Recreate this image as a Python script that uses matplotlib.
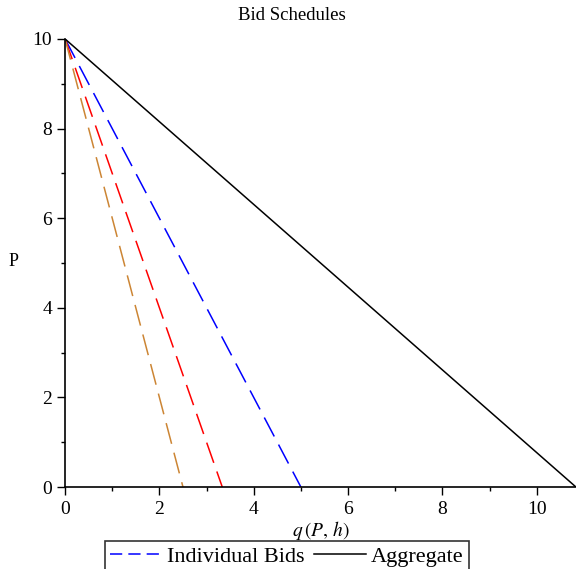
import matplotlib.pyplot as plt

plt.rcParams['font.family'] = ['Liberation Serif', 'DejaVu Serif']
plt.rcParams['mathtext.fontset'] = 'stix'

# bids q = k*(10 - P); intercepts on the q axis
p_max = 10.0
bid_intercepts = [5.0, 10.0 / 3.0, 2.5]
bid_colors = ['#0000ff', '#ff0000', '#cc8534']
aggregate_intercept = sum(bid_intercepts)
x_ticks = [0, 2, 4, 6, 8, 10]
y_ticks = [0, 2, 4, 6, 8, 10]

fig = plt.figure(figsize=(5.76, 5.69), dpi=100)
ax = fig.add_axes([0.113, 0.144, 0.887, 0.7875])

handles = []
for q0, c in zip(bid_intercepts, bid_colors):
    h, = ax.plot([0, q0], [p_max, 0], color=c, lw=1.1, dashes=(14, 6))
    handles.append(h)
agg, = ax.plot([0, aggregate_intercept], [p_max, 0], color='black', lw=1.1)

ax.set_xlim(0, aggregate_intercept)
ax.set_ylim(0, p_max)
ax.set_xticks(x_ticks)
ax.set_yticks(y_ticks)
ax.set_xticks([1, 3, 5, 7, 9], minor=True)
ax.set_yticks([1, 3, 5, 7, 9], minor=True)
ax.tick_params(labelsize=14, length=6, width=1)
ax.tick_params(axis='x', pad=4)
ax.tick_params(which='minor', length=3, width=1)
for s in ['top', 'right']:
    ax.spines[s].set_visible(False)
for s in ['left', 'bottom']:
    ax.spines[s].set_linewidth(1.2)

fig.text(292 / 576, 1 - 15 / 569, 'Bid Schedules', fontsize=13.5,
         ha='center', va='center')
fig.text(321 / 576, 1 - 530 / 569, r'$q\,(P,\, h)$', fontsize=14,
         ha='center', va='center')
fig.text(14 / 576, 1 - 262 / 569, 'P', fontsize=13, ha='center', va='center')

leg = fig.legend([handles[0], agg], ['Individual Bids', 'Aggregate'],
                 loc='upper center', bbox_to_anchor=(287 / 576, 1 - 541 / 569),
                 ncol=2, fontsize=16, frameon=True, fancybox=False,
                 edgecolor='black', handlelength=2.3, columnspacing=0.45,
                 borderpad=0.25, handletextpad=0.25, borderaxespad=0)
leg.get_frame().set_linewidth(1.2)
leg.get_lines()[0].set_dashes((8, 4))

fig.savefig('out.png', dpi=100)
